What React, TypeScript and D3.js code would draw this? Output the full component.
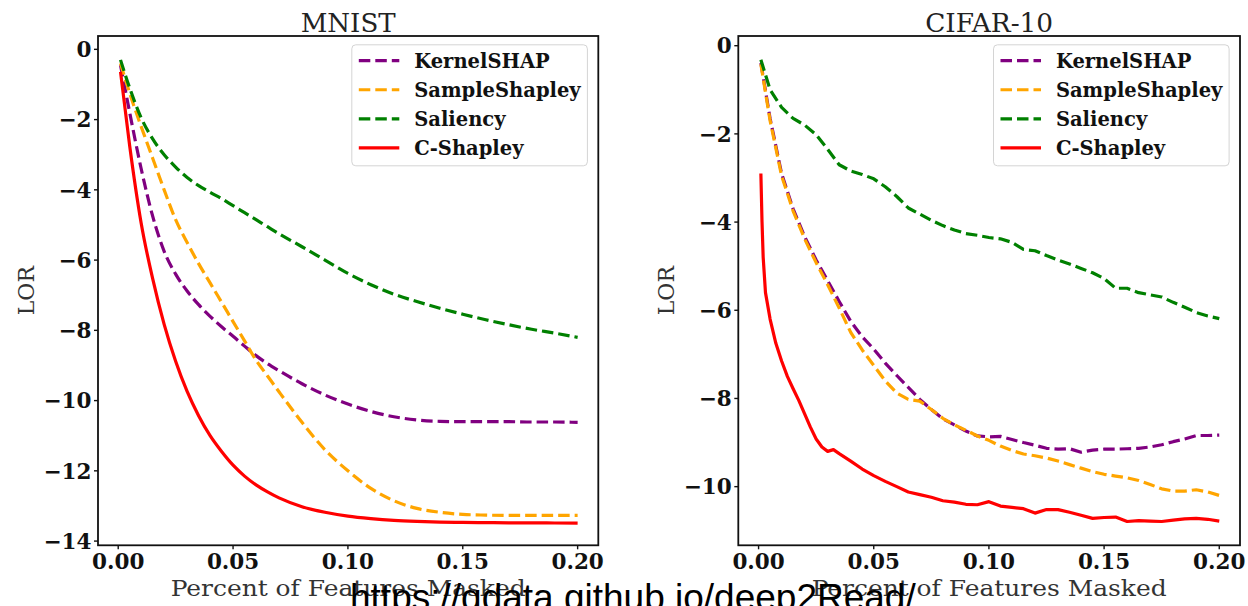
import React from "react";
import * as d3 from "d3";

// ---- data ----
const seriesNames = ["KernelSHAP", "SampleShapley", "Saliency", "C-Shapley"];
const seriesColors = ["#800080", "#ffa500", "#008000", "#ff0000"];
const seriesDashed = [true, true, true, false];

const xTicks = [0, 0.05, 0.1, 0.15, 0.2];
const mnistYTicks = [0, -2, -4, -6, -8, -10, -12, -14];
const cifarYTicks = [0, -2, -4, -6, -8, -10];

// MNIST
const mnistX = [0.001, 0.005, 0.01, 0.015, 0.02, 0.025, 0.03, 0.035, 0.04, 0.045, 0.05, 0.055, 0.06, 0.065, 0.07, 0.08, 0.09, 0.1, 0.11, 0.12, 0.13, 0.14, 0.15, 0.16, 0.17, 0.18, 0.19, 0.2];
const mnistKernel = [-0.45, -1.8, -3.4, -4.75, -5.75, -6.4, -6.88, -7.27, -7.6, -7.9, -8.17, -8.45, -8.72, -8.95, -9.15, -9.52, -9.84, -10.1, -10.31, -10.46, -10.55, -10.59, -10.6, -10.6, -10.6, -10.61, -10.61, -10.62];
const mnistSample = [-0.4, -1.25, -2.2, -3.1, -4.0, -4.85, -5.5, -6.1, -6.65, -7.2, -7.75, -8.3, -8.85, -9.3, -9.75, -10.62, -11.4, -12.0, -12.5, -12.85, -13.07, -13.18, -13.24, -13.26, -13.27, -13.27, -13.27, -13.27];
const mnistSaliency = [-0.3, -1.1, -1.95, -2.55, -3.0, -3.35, -3.65, -3.88, -4.07, -4.25, -4.45, -4.65, -4.85, -5.05, -5.25, -5.62, -6.0, -6.38, -6.7, -6.97, -7.18, -7.37, -7.54, -7.7, -7.84, -7.97, -8.08, -8.2];
const mnistCShap = [-0.64, -2.75, -4.95, -6.53, -7.83, -8.88, -9.74, -10.43, -11.0, -11.45, -11.84, -12.15, -12.4, -12.6, -12.77, -13.02, -13.18, -13.29, -13.36, -13.41, -13.44, -13.46, -13.47, -13.475, -13.48, -13.48, -13.485, -13.49];

// CIFAR-10
const cifarX = [0.001, 0.005, 0.01, 0.015, 0.02, 0.025, 0.03, 0.035, 0.04, 0.045, 0.05, 0.055, 0.06, 0.065, 0.07, 0.075, 0.08, 0.085, 0.09, 0.095, 0.1, 0.105, 0.11, 0.115, 0.12, 0.125, 0.13, 0.135, 0.14, 0.145, 0.15, 0.155, 0.16, 0.165, 0.17, 0.175, 0.18, 0.185, 0.19, 0.195, 0.2];
const cifarKernel = [-0.39, -1.65, -2.9, -3.7, -4.33, -4.86, -5.33, -5.8, -6.25, -6.6, -6.88, -7.2, -7.48, -7.75, -8.02, -8.25, -8.46, -8.6, -8.74, -8.85, -8.87, -8.86, -8.93, -9.0, -9.06, -9.13, -9.15, -9.14, -9.22, -9.17, -9.15, -9.15, -9.14, -9.13, -9.1, -9.05, -8.98, -8.92, -8.84, -8.84, -8.83];
const cifarSample = [-0.42, -1.7, -2.95, -3.75, -4.38, -4.92, -5.42, -5.95, -6.5, -6.9, -7.25, -7.6, -7.88, -8.02, -8.06, -8.25, -8.45, -8.6, -8.72, -8.85, -8.95, -9.08, -9.18, -9.26, -9.3, -9.35, -9.42, -9.5, -9.58, -9.66, -9.72, -9.76, -9.8, -9.86, -9.95, -10.05, -10.1, -10.1, -10.07, -10.12, -10.2];
const cifarSaliency = [-0.32, -1.0, -1.4, -1.65, -1.8, -2.02, -2.35, -2.7, -2.84, -2.92, -3.02, -3.2, -3.42, -3.68, -3.82, -3.96, -4.08, -4.18, -4.26, -4.3, -4.35, -4.38, -4.46, -4.62, -4.65, -4.76, -4.86, -4.95, -5.05, -5.15, -5.28, -5.5, -5.5, -5.6, -5.65, -5.7, -5.82, -5.93, -6.05, -6.13, -6.19];
const cifarCShapX = [0.001, 0.0015, 0.002, 0.003, 0.005, 0.0075, 0.01, 0.0125, 0.015, 0.0175, 0.02, 0.0225, 0.025, 0.0275, 0.03, 0.0325, 0.035, 0.04, 0.045, 0.05, 0.055, 0.06, 0.065, 0.07, 0.075, 0.08, 0.085, 0.09, 0.095, 0.1, 0.105, 0.11, 0.115, 0.12, 0.125, 0.13, 0.135, 0.14, 0.145, 0.15, 0.155, 0.16, 0.165, 0.17, 0.175, 0.18, 0.185, 0.19, 0.195, 0.2];
const cifarCShap = [-2.9, -4.0, -4.8, -5.6, -6.2, -6.75, -7.15, -7.5, -7.78, -8.05, -8.35, -8.65, -8.92, -9.1, -9.2, -9.16, -9.25, -9.42, -9.6, -9.75, -9.88, -10.0, -10.12, -10.18, -10.24, -10.32, -10.35, -10.4, -10.41, -10.34, -10.44, -10.47, -10.5, -10.6, -10.52, -10.52, -10.58, -10.65, -10.72, -10.7, -10.69, -10.79, -10.77, -10.78, -10.79, -10.76, -10.73, -10.72, -10.74, -10.78];

const SERIF = "'DejaVu Serif', serif";
const TOP = 36;
const BOTTOM = 545.3;
const X_DOMAIN = [-0.0088, 0.209];
const DASH = "11.5 5";
const LW = 3.2;

type Series = { name: string; color: string; dashed: boolean; xs: number[]; ys: number[] };

const fmtY = (v: number) => String(v).replace("-", "\u2212");

function Panel({ title, titleWidth, left, right, yDomain, yTicks, series }: {
  title: string; titleWidth: number; left: number; right: number; yDomain: number[]; yTicks: number[]; series: Series[];
}) {
  const x = d3.scaleLinear().domain(X_DOMAIN).range([left, right]);
  const y = d3.scaleLinear().domain(yDomain).range([BOTTOM, TOP]);
  const cx = (left + right) / 2;
  const cy = (TOP + BOTTOM) / 2;
  const clipId = "clip-" + title.replace(/\W/g, "");

  const legL = right - 246.5;
  const legT = TOP + 8.8;

  return (
    <g>
      <defs>
        <clipPath id={clipId}>
          <rect x={left} y={TOP} width={right - left} height={BOTTOM - TOP} />
        </clipPath>
      </defs>
      <text x={cx} y={31.5} textAnchor="middle" fontFamily={SERIF} fontSize={26} fill="#222"
        textLength={titleWidth} lengthAdjust="spacingAndGlyphs">{title}</text>

      <g clipPath={`url(#${clipId})`}>
        {series.map((s) => {
          const line = d3.line<number>()
            .x((_, i) => x(s.xs[i]))
            .y((d) => y(d))
            .curve(s.xs.length < 30 ? d3.curveMonotoneX : d3.curveLinear);
          return (
            <path key={s.name} d={line(s.ys) || ""} fill="none" stroke={s.color} strokeWidth={LW}
              strokeDasharray={s.dashed ? DASH : undefined} strokeLinejoin="round" />
          );
        })}
      </g>

      {/* spines */}
      <rect x={left} y={TOP} width={right - left} height={BOTTOM - TOP} fill="none" stroke="#111" strokeWidth={1.8} />

      {/* y ticks */}
      {yTicks.map((t) => (
        <g key={t}>
          <line x1={left - 4} x2={left} y1={y(t)} y2={y(t)} stroke="#111" strokeWidth={1.4} />
          <text x={left - 6.5} y={y(t)} dy="0.36em" textAnchor="end" fontFamily={SERIF} fontWeight="bold" fontSize={21.5} fill="#111">{fmtY(t)}</text>
        </g>
      ))}
      {/* x ticks */}
      {xTicks.map((t) => (
        <g key={t}>
          <line x1={x(t)} x2={x(t)} y1={BOTTOM} y2={BOTTOM + 4} stroke="#111" strokeWidth={1.4} />
          <text x={x(t)} y={569} textAnchor="middle" fontFamily={SERIF} fontWeight="bold" fontSize={21.5} fill="#111">{d3.format(".2f")(t)}</text>
        </g>
      ))}

      <text x={cx} y={596} textAnchor="middle" fontFamily={SERIF} fontSize={23} fill="#333"
        textLength={355} lengthAdjust="spacingAndGlyphs">Percent of Features Masked</text>
      <text transform={`translate(${left - 64},${cy}) rotate(-90)`} textAnchor="middle" fontFamily={SERIF} fontSize={22} fill="#333">LOR</text>

      {/* legend */}
      <rect x={legL} y={legT} width={235.6} height={121} rx={4} fill="#fff" fillOpacity={0.85} stroke="#d4d4d4" strokeWidth={1} />
      {series.map((s, i) => {
        const ly = legT + 15.9 + i * 29.05;
        return (
          <g key={s.name}>
            <line x1={legL + 7} x2={legL + 47.5} y1={ly} y2={ly} stroke={s.color} strokeWidth={LW}
              strokeDasharray={s.dashed ? DASH : undefined} />
            <text x={legL + 62.4} y={ly} dy="0.35em" fontFamily={SERIF} fontWeight="bold" fontSize={19.5} fill="#111">{s.name}</text>
          </g>
        );
      })}
    </g>
  );
}

function build(xsList: number[][], ysList: number[][]): Series[] {
  return seriesNames.map((name, i) => ({
    name, color: seriesColors[i], dashed: seriesDashed[i], xs: xsList[i], ys: ysList[i],
  }));
}

export default function App() {
  const mnist = build([mnistX, mnistX, mnistX, mnistX], [mnistKernel, mnistSample, mnistSaliency, mnistCShap]);
  const cifar = build([cifarX, cifarX, cifarX, cifarCShapX], [cifarKernel, cifarSample, cifarSaliency, cifarCShap]);
  return (
    <svg width={1248} height={606} style={{ position: "absolute", left: 0, top: 0, background: "#fff" }}>
      <rect width={1248} height={606} fill="#fff" />
      <Panel title="MNIST" titleWidth={95} left={98} right={598.3} yDomain={[-14.12, 0.38]} yTicks={mnistYTicks} series={mnist} />
      <Panel title="CIFAR-10" titleWidth={128} left={738.3} right={1240} yDomain={[-11.33, 0.22]} yTicks={cifarYTicks} series={cifar} />
      <text x={350} y={610} fontFamily="'Liberation Sans', Arial, sans-serif" fontSize={37} fill="#000">https://qdata.github.io/deep2Read/</text>
    </svg>
  );
}
